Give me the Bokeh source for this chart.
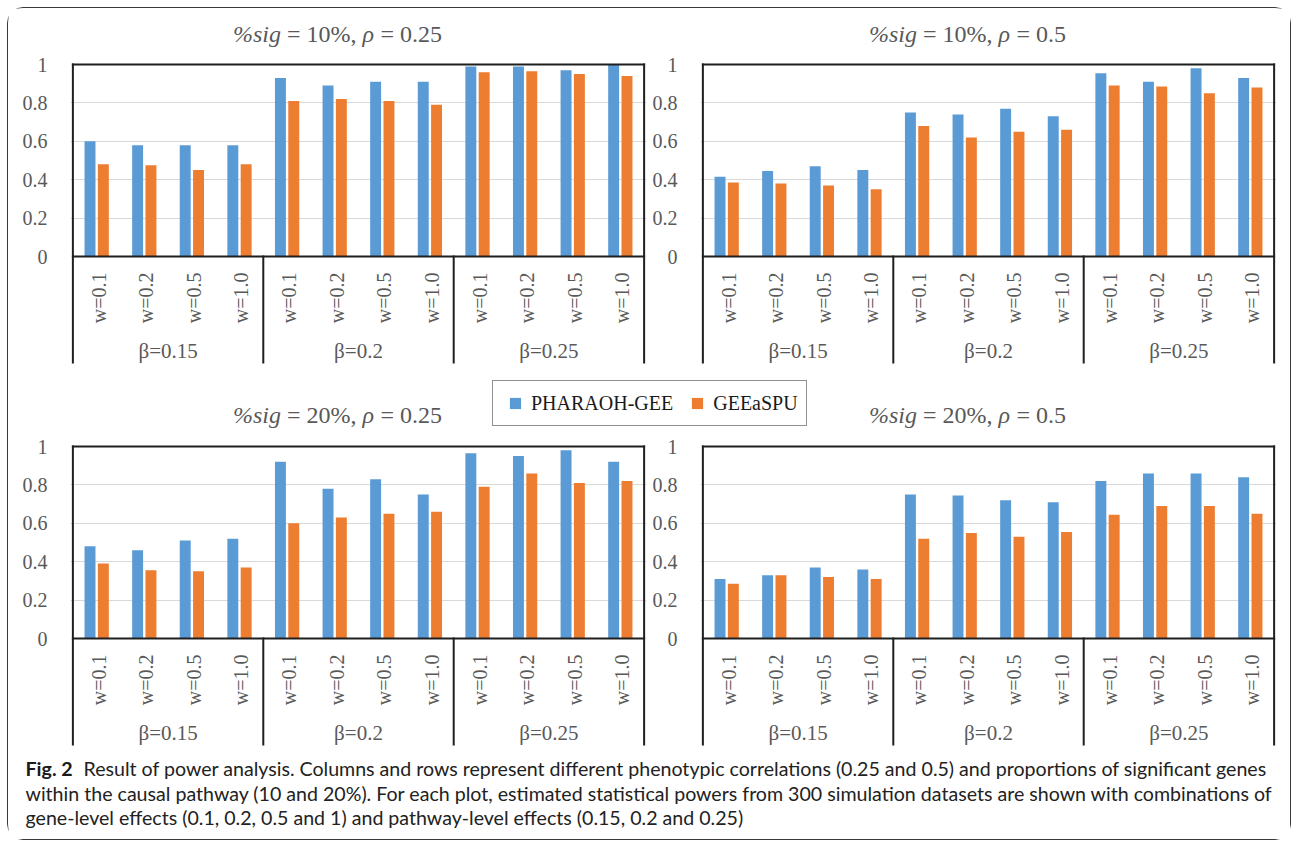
import math
from bokeh.plotting import figure
from bokeh.models import (ColumnDataSource, FactorRange, Range1d, FixedTicker,
                          Legend, LegendItem)
from bokeh.layouts import column, row
from bokeh.transform import dodge
from bokeh.core.properties import value
from bokeh.embed import file_html
from bokeh.resources import INLINE

# ---------------- data ----------------
betas = ["β=0.15", "β=0.2", "β=0.25"]
ws = ["w=0.1", "w=0.2", "w=0.5", "w=1.0"]
y_ticks = [0, 0.2, 0.4, 0.6, 0.8, 1]
y_tick_labels = ["0", "0.2", "0.4", "0.6", "0.8", "1"]
series = ["PHARAOH-GEE", "GEEaSPU"]

panel_sig = ["10%", "10%", "20%", "20%"]
panel_rho = ["0.25", "0.5", "0.25", "0.5"]

pharaoh_sig10_rho025 = [0.60, 0.58, 0.58, 0.58, 0.93, 0.89, 0.91, 0.91, 0.99, 0.99, 0.97, 1.00]
geeaspu_sig10_rho025 = [0.48, 0.475, 0.45, 0.48, 0.81, 0.82, 0.81, 0.79, 0.96, 0.965, 0.95, 0.94]
pharaoh_sig10_rho05 = [0.415, 0.445, 0.47, 0.45, 0.75, 0.74, 0.77, 0.73, 0.955, 0.91, 0.98, 0.93]
geeaspu_sig10_rho05 = [0.385, 0.38, 0.37, 0.35, 0.68, 0.62, 0.65, 0.66, 0.89, 0.885, 0.85, 0.88]
pharaoh_sig20_rho025 = [0.48, 0.46, 0.51, 0.52, 0.92, 0.78, 0.83, 0.75, 0.965, 0.95, 0.98, 0.92]
geeaspu_sig20_rho025 = [0.39, 0.355, 0.35, 0.37, 0.60, 0.63, 0.65, 0.66, 0.79, 0.86, 0.81, 0.82]
pharaoh_sig20_rho05 = [0.31, 0.33, 0.37, 0.36, 0.75, 0.745, 0.72, 0.71, 0.82, 0.86, 0.86, 0.84]
geeaspu_sig20_rho05 = [0.285, 0.33, 0.32, 0.31, 0.52, 0.55, 0.53, 0.555, 0.645, 0.69, 0.69, 0.65]

caption_bold = "Fig. 2"
caption_lines = [
    "Result of power analysis. Columns and rows represent different phenotypic correlations (0.25 and 0.5) and proportions of significant genes",
    "within the causal pathway (10 and 20%). For each plot, estimated statistical powers from 300 simulation datasets are shown with combinations of",
    "gene-level effects (0.1, 0.2, 0.5 and 1) and pathway-level effects (0.15, 0.2 and 0.25)",
]

# ---------------- style / layout ----------------
BLUE = "#5B9BD5"
ORANGE = "#ED7D31"
GRAY = "#595959"
LINE = "#1f1f1f"
GRID = "#d9d9d9"
SERIF = "Liberation Serif"

TOTAL_W = 1282
COL_W = [640, 642]
COL_X = [0, 640]
BORDER_L = [62, 52]
FRAME_W = 576
PX = 192.0          # pixels per unit of power
TABLE_PX = 106      # depth of the category table below 0
EDGE_PX = 2
W_LABEL_PX = 16
BETA_LABEL_PX = 94
FRAME_H = int(EDGE_PX * 2 + PX + TABLE_PX)

# Times-compatible advance widths (per 1000 em)
TIMES = {" ": 250, "=": 564, "%": 833, ",": 250, ".": 250, "s": 389, "i": 278,
         "g": 500, "ρ": 500}


def text_w(s, size):
    return sum(TIMES.get(c, 500) for c in s) * size / 1000.0


def make_strip(height):
    p = figure(width=TOTAL_W, height=height, x_range=Range1d(0, TOTAL_W),
               y_range=Range1d(height, 0), x_axis_location=None,
               y_axis_location=None, toolbar_location=None, title=None,
               output_backend="svg", min_border=0, outline_line_color=None)
    p.grid.visible = False
    return p


def add_title(p, cx, ymid, sig, rho):
    size = 24
    parts = [("%sig", "italic"), ("= %s," % sig, "normal"),
             ("ρ", "italic"), ("= %s" % rho, "normal")]
    widths = [text_w(t, size) for t, _ in parts]
    space = text_w(" ", size)
    total = sum(widths) + space * (len(parts) - 1)
    x = cx - total / 2.0
    for (t, style), w in zip(parts, widths):
        p.text(x=[x], y=[ymid], text=[t], text_font=value(SERIF),
               text_font_size="%dpx" % size, text_font_style=style,
               text_color=GRAY, text_align="left", text_baseline="middle")
        x += w + space


def make_panel(ph, ge, col, top, bottom):
    factors = [(b, w) for b in betas for w in ws]
    xr = FactorRange(*factors, factor_padding=0, group_padding=0,
                     range_padding=0.05, range_padding_units="absolute")
    yb = -TABLE_PX / PX
    yr = Range1d(-(TABLE_PX + EDGE_PX) / PX, 1 + EDGE_PX / PX)
    p = figure(x_range=xr, y_range=yr, width=COL_W[col],
               height=top + FRAME_H + bottom, x_axis_location=None,
               toolbar_location=None, output_backend="svg", title=None,
               min_border_left=BORDER_L[col],
               min_border_right=COL_W[col] - BORDER_L[col] - FRAME_W,
               min_border_top=top, min_border_bottom=bottom,
               outline_line_color=None)
    p.xgrid.visible = False
    ax = p.yaxis[0]
    ax.ticker = FixedTicker(ticks=y_ticks)
    ax.major_label_overrides = {t: l for t, l in zip(y_ticks, y_tick_labels)}
    ax.axis_line_color = None
    ax.major_tick_line_color = None
    ax.minor_tick_line_color = None
    ax.major_label_standoff = 17
    ax.major_label_text_font = SERIF
    ax.major_label_text_font_size = "20px"
    ax.major_label_text_color = GRAY
    p.ygrid.ticker = FixedTicker(ticks=y_ticks[1:-1])
    p.ygrid.grid_line_color = GRID
    p.ygrid.grid_line_width = 1

    src = ColumnDataSource(dict(x=factors, ph=ph, ge=ge,
                                w=[f[1] for f in factors]))
    p.vbar(x=dodge("x", -0.14, range=xr), top="ph", width=0.23, source=src,
           fill_color=BLUE, line_color=None)
    p.vbar(x=dodge("x", 0.14, range=xr), top="ge", width=0.23, source=src,
           fill_color=ORANGE, line_color=None)

    L = (betas[0], ws[0], -0.5)
    R = (betas[-1], ws[-1], 0.5)
    seps = [(b, ws[0], -0.5) for b in betas[1:]]
    lines = ColumnDataSource(dict(
        x0=[L, L, L, R] + seps,
        x1=[R, R, L, R] + seps,
        y0=[1, 0, 1, 1] + [0] * len(seps),
        y1=[1, 0, yb, yb] + [yb] * len(seps)))
    p.segment(x0="x0", y0="y0", x1="x1", y1="y1", source=lines,
              line_color=LINE, line_width=2, line_cap="square")

    p.text(x="x", y=-W_LABEL_PX / PX, text="w", source=src, angle=math.pi / 2,
           text_align="right", text_baseline="middle", x_offset=2,
           text_font=value(SERIF), text_font_size="20px", text_color=GRAY)
    bsrc = ColumnDataSource(dict(x=betas, t=betas))
    p.text(x="x", y=-BETA_LABEL_PX / PX, text="t", source=bsrc,
           text_align="center", text_baseline="middle",
           text_font=value(SERIF), text_font_size="21px", text_color=GRAY)
    return p


def title_center(col):
    return COL_X[col] + BORDER_L[col] + FRAME_W / 2.0 - 21


# ---------------- build ----------------
strip1 = make_strip(44)
add_title(strip1, title_center(0), 25, panel_sig[0], panel_rho[0])
add_title(strip1, title_center(1), 25, panel_sig[1], panel_rho[1])

p1 = make_panel(pharaoh_sig10_rho025, geeaspu_sig10_rho025, 0, 10, 9)
p2 = make_panel(pharaoh_sig10_rho05, geeaspu_sig10_rho05, 1, 10, 9)

strip2 = make_strip(61)
add_title(strip2, title_center(0), 41, panel_sig[2], panel_rho[2])
add_title(strip2, title_center(1), 41, panel_sig[3], panel_rho[3])
# legend keys: one off-canvas point each, only used to draw the legend squares
r_ph = strip2.scatter(x=[-1000], y=[-1000], marker="square", size=11,
                      fill_color=BLUE, line_color=None)
r_ge = strip2.scatter(x=[-1000], y=[-1000], marker="square", size=11,
                      fill_color=ORANGE, line_color=None)
legend = Legend(items=[LegendItem(label=series[0], renderers=[r_ph]),
                       LegendItem(label=series[1], renderers=[r_ge])],
                location=(484, 8), orientation="horizontal",
                glyph_width=28, glyph_height=28, label_standoff=2, spacing=10,
                padding=8, margin=0, border_line_color=LINE,
                border_line_width=1.5, label_text_font=SERIF,
                label_text_font_size="20px", label_text_color="#1a1a1a",
                background_fill_color="white", background_fill_alpha=1.0)
strip2.add_layout(legend)

p3 = make_panel(pharaoh_sig20_rho025, geeaspu_sig20_rho025, 0, 10, 4)
p4 = make_panel(pharaoh_sig20_rho05, geeaspu_sig20_rho05, 1, 10, 4)

cap = make_strip(89)
CAP_FONT = "Lato"
CAP_SIZE = "19.6px"
cap.text(x=[17], y=[17.5], text=[caption_bold], text_font=value(CAP_FONT),
         text_font_size=CAP_SIZE, text_font_style="bold", text_color="#1a1a1a",
         text_baseline="middle")
cap.text(x=[75, 17, 17], y=[17.5, 42.5, 67], text=caption_lines,
         text_font=value(CAP_FONT), text_font_size=CAP_SIZE,
         text_color="#222222", text_baseline="middle")

layout = column(strip1, row(p1, p2), strip2, row(p3, p4), cap,
                margin=(8, 0, 0, 8),
                styles={"outline": "1.5px solid #3a3a3a",
                        "border-radius": "15px"})

open("out.html", "w").write(file_html(layout, INLINE))
